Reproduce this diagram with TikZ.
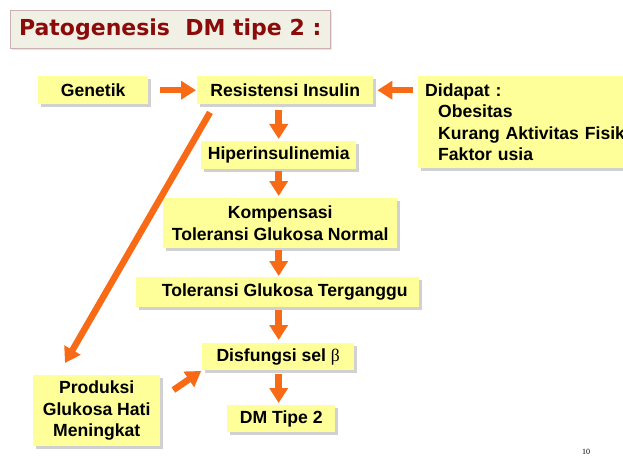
\documentclass[tikz,border=0pt]{standalone}
\usepackage{fontspec}
\setmainfont{Liberation Sans}
\newfontfamily\titlefont{DejaVu Sans}
\newfontfamily\numfont{Liberation Serif}
\usetikzlibrary{arrows.meta,shadows}
\definecolor{boxyellow}{HTML}{FFFF99}
\definecolor{arrorange}{HTML}{F96A16}
\definecolor{titlered}{HTML}{8B0A0A}
\definecolor{titlebg}{HTML}{F0F0E4}
\definecolor{titleborder}{HTML}{CFB0B0}
\begin{document}
\begin{tikzpicture}[x=1pt,y=-1pt,
  box/.style={fill=boxyellow, draw=none, anchor=north west, inner sep=0pt,
    font=\bfseries\fontsize{17.6}{21.5}\selectfont, align=center,
    drop shadow={shadow xshift=2.5pt, shadow yshift=-2.5pt, fill=black!30, opacity=0.6}},
  arr/.style={draw=arrorange, line width=6.5pt, -{Triangle[length=15pt,width=18pt]}}]
\useasboundingbox (0,0) rectangle (623,457);

% title
\node[draw=titleborder, fill=titlebg, anchor=north west, minimum width=320pt,
  minimum height=38pt, inner sep=0pt, text=titlered,
  font=\titlefont\bfseries\fontsize{22}{26}\selectfont,
  drop shadow={shadow xshift=1.5pt, shadow yshift=-1.5pt, fill=black!20, opacity=0.5}]
  (title) at (10,10) {Patogenesis\ \ DM tipe 2 :};

% boxes
\node[box, minimum width=110pt, minimum height=28pt] (gen) at (38,76) {Genetik};
\node[box, minimum width=176pt, minimum height=28pt] (res) at (197,76) {Resistensi Insulin};
\node[box, minimum height=92pt, text width=215pt, align=left, inner xsep=7pt] (did) at (418,76)
  {Didapat :\\\hspace*{13pt}Obesitas\\\hspace*{13pt}Kurang Aktivitas Fisik\\\hspace*{13pt}Faktor usia};
\node[box, minimum width=155pt, minimum height=28pt] (hip) at (201,141) {Hiperinsulinemia};
\node[box, minimum width=234pt, minimum height=50pt] (komp) at (163,198) {Kompensasi\\Toleransi Glukosa Normal};
\node[box, minimum width=283pt, minimum height=30pt] (tgt) at (136,277) {\hspace*{14pt}Toleransi Glukosa Terganggu};
\node[box, minimum width=152pt, minimum height=27pt] (dis) at (202,343) {Disfungsi sel {\numfont\mdseries β}};
\node[box, minimum width=127pt, minimum height=71pt] (prod) at (33,375) {Produksi\\Glukosa Hati\\Meningkat};
\node[box, minimum width=108pt, minimum height=27pt] (dm) at (227,405) {DM Tipe 2};

% arrows
\draw[arr, shorten <=12pt, shorten >=1pt] (gen.east) -- (res.west);
\draw[arr, shorten <=5pt, shorten >=4pt] (did.west |- res.east) -- (res.east);
\draw[arr, shorten <=6pt, shorten >=2pt] (res.south -| hip.north) -- (hip.north);
\draw[arr, shorten <=2pt, shorten >=2pt] (hip.south) -- (komp.north -| hip.south);
\draw[arr, shorten <=2pt, shorten >=1pt] (komp.south -| hip.south) -- (tgt.north -| hip.south);
\draw[arr, shorten <=3pt, shorten >=3pt] (tgt.south -| hip.south) -- (dis.north -| hip.south);
\draw[arr, shorten <=4pt, shorten >=2pt] (dis.south -| hip.south) -- (dm.north -| hip.south);
\draw[arr] ([xshift=13pt,yshift=-8pt]res.south west) -- ([xshift=32pt,yshift=12pt]prod.north west);
\draw[arr, shorten >=1pt] ([xshift=13pt,yshift=-15pt]prod.north east) -- (dis.south west);

\node[font=\numfont\fontsize{8}{8}\selectfont] (num) at (586,452) {10};
\end{tikzpicture}
\end{document}
